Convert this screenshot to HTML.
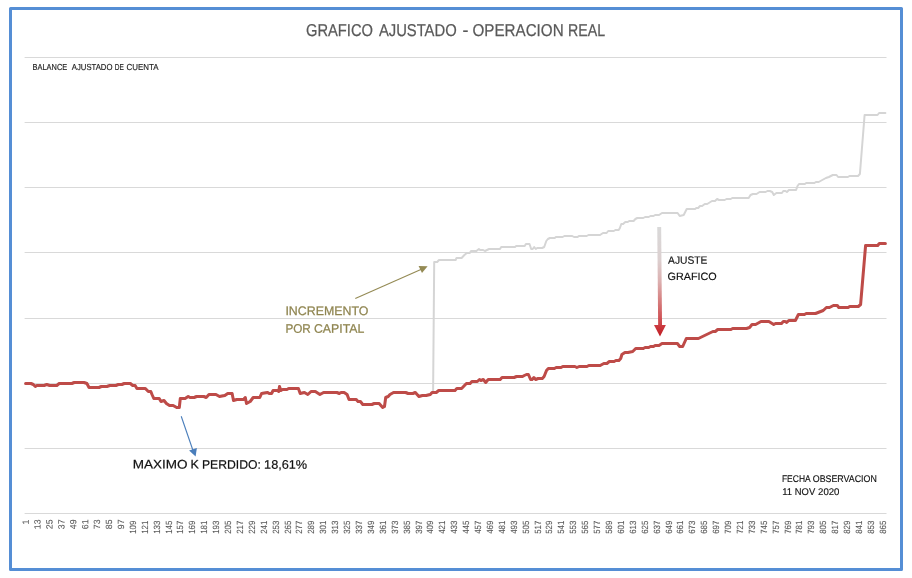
<!DOCTYPE html>
<html lang="es">
<head>
<meta charset="utf-8">
<title>GRAFICO AJUSTADO - OPERACION REAL</title>
<style>
html,body{margin:0;padding:0;background:#fff;}
body{width:912px;height:578px;overflow:hidden;position:relative;font-family:"Liberation Sans",sans-serif;}
svg{position:absolute;left:0;top:0;display:block;}
text{font-family:"Liberation Sans",sans-serif;}
</style>
</head>
<body>
<svg width="912" height="578" viewBox="0 0 912 578">
<defs>
<linearGradient id="ga" gradientUnits="userSpaceOnUse" x1="0" y1="226.9" x2="0" y2="336.3">
<stop offset="0" stop-color="#d9d9d9"/>
<stop offset="0.3" stop-color="#dcd0d0"/>
<stop offset="0.5" stop-color="#dcb0b0"/>
<stop offset="0.67" stop-color="#d68080"/>
<stop offset="0.85" stop-color="#cf4e52"/>
<stop offset="1" stop-color="#c6262c"/>
</linearGradient>
<linearGradient id="gh" gradientUnits="userSpaceOnUse" x1="0" y1="325" x2="0" y2="336.5">
<stop offset="0" stop-color="#cc3c42"/>
<stop offset="1" stop-color="#c01c22"/>
</linearGradient>
</defs>
<rect x="0" y="0" width="912" height="578" fill="#ffffff"/>
<rect x="10.5" y="8.5" width="891" height="561" fill="#ffffff" stroke="#558ed5" stroke-width="3" stroke-linejoin="round"/>
<g stroke="#d9d9d9" stroke-width="1" fill="none">
<line x1="24.6" x2="886.5" y1="57.5" y2="57.5"/><line x1="24.6" x2="886.5" y1="122.5" y2="122.5"/><line x1="24.6" x2="886.5" y1="187.5" y2="187.5"/><line x1="24.6" x2="886.5" y1="252.5" y2="252.5"/><line x1="24.6" x2="886.5" y1="318.5" y2="318.5"/><line x1="24.6" x2="886.5" y1="383.5" y2="383.5"/><line x1="24.6" x2="886.5" y1="448.5" y2="448.5"/><line x1="24.6" x2="886.5" y1="513.5" y2="513.5"/>
</g>
<path d="M25.6 383.0 L30.9 383.0 L33.3 384.0 L35.3 386.0 L36.9 385.0 L44.1 385.0 L46.8 384.0 L49.6 385.0 L56.8 385.0 L59.2 383.0 L71.9 383.0 L74.3 382.0 L83.9 382.0 L86.9 383.0 L89.0 387.0 L99.0 387.0 L101.4 386.0 L106.9 386.0 L109.9 385.0 L115.9 385.0 L118.3 384.0 L121.9 384.0 L124.3 383.0 L130.3 383.0 L132.7 385.0 L135.1 385.0 L136.9 388.0 L145.3 388.0 L148.3 391.0 L150.8 391.0 L152.0 394.0 L153.8 398.0 L159.2 398.0 L161.0 401.0 L164.0 400.0 L166.4 403.0 L169.5 405.0 L173.1 405.0 L176.7 407.0 L179.3 407.0 L180.3 398.0 L185.1 398.0 L188.2 396.0 L190.0 397.0 L194.2 397.0 L196.6 396.0 L203.8 396.0 L206.2 397.0 L209.0 394.0 L215.9 394.0 L219.5 396.0 L224.8 395.0 L227.8 393.0 L232.1 393.0 L233.5 400.0 L236.9 399.0 L243.5 399.0 L245.3 397.0 L246.5 403.0 L250.2 401.0 L253.2 397.0 L259.8 397.0 L261.6 393.0 L267.6 392.0 L269.2 393.0 L271.6 393.0 L273.1 390.0 L277.9 390.0 L278.7 391.0 L279.5 386.0 L280.9 390.0 L282.7 389.0 L286.9 389.0 L288.8 388.0 L298.4 388.0 L300.2 393.0 L304.4 392.0 L307.8 394.0 L311.1 391.0 L315.3 391.0 L319.9 394.0 L323.7 392.0 L336.9 392.0 L339.3 393.0 L341.1 392.0 L344.1 392.0 L347.1 394.0 L349.0 399.0 L356.2 399.0 L358.0 401.0 L360.4 401.0 L362.8 404.0 L371.9 404.0 L374.3 403.0 L379.1 403.0 L382.7 407.0 L384.5 406.0 L385.7 397.0 L388.2 396.0 L390.0 394.0 L393.6 392.0 L405.6 392.0 L408.1 393.0 L412.9 393.0 L415.3 392.0 L418.9 396.0 L422.5 395.0 L426.2 395.0 L430.3 394.0 L432.1 392.0 L433.1 392.0 L434.2 262.0 L437.2 262.0 L439.0 260.0 L455.6 260.0 L456.5 258.0 L461.6 258.0 L464.4 255.0 L466.8 253.0 L469.8 253.0 L471.0 251.0 L476.4 251.0 L478.9 249.0 L480.1 250.0 L483.1 250.0 L484.9 251.0 L489.1 249.0 L500.0 249.0 L501.2 247.0 L515.0 247.0 L516.2 246.0 L524.7 246.0 L525.9 244.0 L529.5 244.0 L531.2 249.0 L532.7 249.0 L534.2 247.0 L535.8 249.0 L537.2 248.0 L542.1 248.0 L544.2 247.0 L546.3 241.0 L547.9 239.0 L549.9 238.0 L554.7 238.0 L555.9 237.0 L562.6 237.0 L564.4 236.0 L572.2 236.0 L574.0 237.0 L577.6 237.0 L578.9 236.0 L586.7 236.0 L588.5 235.0 L600.0 235.0 L603.0 233.0 L606.6 233.0 L608.2 231.0 L613.8 231.0 L615.4 230.0 L618.7 230.0 L619.9 228.0 L621.3 224.0 L623.1 224.0 L625.3 222.0 L627.7 222.0 L629.2 221.0 L633.6 221.0 L635.4 219.0 L637.3 218.0 L643.3 218.0 L645.1 217.0 L648.7 217.0 L650.5 216.0 L653.5 216.0 L655.1 215.0 L659.0 215.0 L662.0 213.0 L677.6 213.0 L679.7 216.0 L683.7 215.0 L686.7 209.0 L695.1 209.0 L696.3 208.0 L698.2 208.0 L700.0 206.0 L702.1 206.0 L704.8 204.0 L707.2 204.0 L712.0 201.0 L715.0 201.0 L717.1 199.0 L719.0 200.0 L724.7 200.0 L726.5 199.0 L730.7 199.0 L732.3 198.0 L748.7 198.0 L750.5 195.0 L752.9 194.0 L756.5 194.0 L759.6 192.0 L765.6 192.0 L767.4 191.0 L769.8 191.0 L772.2 192.0 L773.8 195.0 L776.4 193.0 L781.9 193.0 L783.3 191.0 L785.5 191.0 L786.9 192.0 L788.9 190.0 L796.1 190.0 L797.5 186.0 L799.0 184.0 L804.8 184.0 L806.2 183.0 L814.4 183.0 L815.9 182.0 L818.7 182.0 L822.3 180.0 L825.9 178.0 L828.9 177.0 L832.8 175.0 L836.5 175.0 L838.1 177.0 L847.9 177.0 L849.5 176.0 L858.0 176.0 L859.9 174.0 L864.6 115.0 L877.5 115.0 L879.1 113.0 L885.4 113.0" fill="none" stroke="#d5d5d5" stroke-width="2" stroke-linejoin="round" stroke-linecap="round"/>
<path d="M25.6 383.5 L30.9 383.5 L33.3 384.5 L35.3 386.5 L36.9 385.5 L44.1 385.5 L46.8 384.5 L49.6 385.5 L56.8 385.5 L59.2 383.5 L71.9 383.5 L74.3 382.5 L83.9 382.5 L86.9 383.5 L89.0 387.5 L99.0 387.5 L101.4 386.5 L106.9 386.5 L109.9 385.5 L115.9 385.5 L118.3 384.5 L121.9 384.5 L124.3 383.5 L130.3 383.5 L132.7 385.5 L135.1 385.5 L136.9 388.5 L145.3 388.5 L148.3 391.5 L150.8 391.5 L152.0 394.5 L153.8 398.5 L159.2 398.5 L161.0 401.5 L164.0 400.5 L166.4 403.5 L169.5 405.5 L173.1 405.5 L176.7 407.5 L179.3 407.5 L180.3 398.5 L185.1 398.5 L188.2 396.5 L190.0 397.5 L194.2 397.5 L196.6 396.5 L203.8 396.5 L206.2 397.5 L209.0 394.5 L215.9 394.5 L219.5 396.5 L224.8 395.5 L227.8 393.5 L232.1 393.5 L233.5 400.5 L236.9 399.5 L243.5 399.5 L245.3 397.5 L246.5 403.5 L250.2 401.5 L253.2 397.5 L259.8 397.5 L261.6 393.5 L267.6 392.5 L269.2 393.5 L271.6 393.5 L273.1 390.5 L277.9 390.5 L278.7 391.5 L279.5 386.5 L280.9 390.5 L282.7 389.5 L286.9 389.5 L288.8 388.5 L298.4 388.5 L300.2 393.5 L304.4 392.5 L307.8 394.5 L311.1 391.5 L315.3 391.5 L319.9 394.5 L323.7 392.5 L336.9 392.5 L339.3 393.5 L341.1 392.5 L344.1 392.5 L347.1 394.5 L349.0 399.5 L356.2 399.5 L358.0 401.5 L360.4 401.5 L362.8 404.5 L371.9 404.5 L374.3 403.5 L379.1 403.5 L382.7 407.5 L384.5 406.5 L385.7 397.5 L388.2 396.5 L390.0 394.5 L393.6 392.5 L405.6 392.5 L408.1 393.5 L412.9 393.5 L415.3 392.5 L418.9 396.5 L422.5 395.5 L426.2 395.5 L430.3 394.5 L432.1 392.5 L436.3 392.5 L438.7 390.5 L455.0 390.5 L456.8 388.5 L461.6 388.5 L466.4 383.5 L470.1 383.5 L471.9 381.5 L477.3 381.5 L479.5 379.5 L480.9 380.5 L483.3 379.5 L485.7 382.5 L488.2 379.5 L500.2 379.5 L502.0 377.5 L514.1 377.5 L516.5 376.5 L522.5 376.5 L524.3 375.5 L526.5 374.5 L528.4 374.5 L530.6 379.5 L532.1 379.5 L533.9 377.5 L535.7 379.5 L538.1 378.5 L542.3 378.5 L544.1 376.5 L546.5 370.5 L548.3 368.5 L554.4 368.5 L556.2 367.5 L561.0 367.5 L562.8 366.5 L574.9 366.5 L576.9 367.5 L579.1 366.5 L586.9 366.5 L588.8 365.5 L600.2 365.5 L603.8 363.5 L606.9 363.5 L609.3 361.5 L614.1 361.5 L615.9 360.5 L618.9 360.5 L620.7 358.5 L621.9 354.5 L624.9 352.5 L628.0 352.5 L632.7 351.5 L635.7 348.5 L643.3 348.5 L645.1 347.5 L648.7 347.5 L650.5 346.5 L653.5 346.5 L655.1 345.5 L659.0 345.5 L662.0 343.5 L677.4 343.5 L679.7 346.5 L682.7 346.5 L686.3 338.5 L698.4 338.5 L712.9 331.5 L715.3 331.5 L717.7 329.5 L730.9 329.5 L732.7 328.5 L746.5 328.5 L749.6 327.5 L752.0 324.5 L755.6 324.5 L761.0 321.5 L768.9 321.5 L773.7 324.5 L775.5 323.5 L781.5 323.5 L783.3 321.5 L785.1 321.5 L786.7 322.5 L788.8 320.5 L795.4 320.5 L798.4 314.5 L804.4 314.5 L806.2 313.5 L815.5 313.5 L823.2 310.5 L826.4 307.5 L829.5 307.5 L833.4 305.5 L837.3 305.5 L838.8 307.5 L848.1 307.5 L849.7 306.5 L858.3 306.5 L860.6 304.5 L865.6 245.5 L877.7 245.5 L879.3 243.5 L885.4 243.5" fill="none" stroke="#be4b48" stroke-width="3" stroke-linejoin="round" stroke-linecap="round"/>
<!-- title -->
<text transform="rotate(0.03 305.95 35.6)" font-size="17.1" fill="#595959" stroke="#595959" stroke-width="0.25"><tspan x="305.95" y="35.6" textLength="67.03" lengthAdjust="spacingAndGlyphs">GRAFICO</tspan> <tspan x="378.90" y="35.6" textLength="77.76" lengthAdjust="spacingAndGlyphs">AJUSTADO</tspan> <tspan x="462.45" y="35.6" textLength="5.90" lengthAdjust="spacingAndGlyphs">-</tspan> <tspan x="472.55" y="35.6" textLength="91.05" lengthAdjust="spacingAndGlyphs">OPERACION</tspan> <tspan x="568.05" y="35.6" textLength="37.06" lengthAdjust="spacingAndGlyphs">REAL</tspan></text>
<text transform="rotate(0.03 32.57 70)" font-size="8.7" fill="#222222" stroke="#222222" stroke-width="0.15"><tspan x="32.57" y="70" textLength="34.62" lengthAdjust="spacingAndGlyphs">BALANCE</tspan> <tspan x="71.75" y="70" textLength="40.75" lengthAdjust="spacingAndGlyphs">AJUSTADO</tspan> <tspan x="114.70" y="70" textLength="9.07" lengthAdjust="spacingAndGlyphs">DE</tspan> <tspan x="126.50" y="70" textLength="32.01" lengthAdjust="spacingAndGlyphs">CUENTA</tspan></text>
<!-- olive annotation -->
<g fill="#8f8550" stroke="#8f8550" stroke-width="0.25">
<text transform="rotate(0.03 285.40 314.9)" font-size="12.4"><tspan x="285.40" y="314.9" textLength="83.03" lengthAdjust="spacingAndGlyphs">INCREMENTO</tspan></text>
<text transform="rotate(0.03 285.40 332.8)" font-size="12.4"><tspan x="285.40" y="332.8" textLength="25.35" lengthAdjust="spacingAndGlyphs">POR</tspan> <tspan x="314.00" y="332.8" textLength="50.27" lengthAdjust="spacingAndGlyphs">CAPITAL</tspan></text>
</g>
<line x1="355.3" y1="298.4" x2="422" y2="269.1" stroke="#948a54" stroke-width="1.1"/>
<polygon points="427.6,266.3 422.0,273.1 418.6,266.0" fill="#948a54"/>
<!-- red gradient arrow -->
<line x1="659.2" y1="226.9" x2="660.1" y2="326" stroke="url(#ga)" stroke-width="3.9"/>
<polygon points="654.0,325.1 665.9,325.1 660,336.5" fill="url(#gh)"/>
<g fill="#111111" stroke="#111111" stroke-width="0.15">
<text transform="rotate(0.03 668.06 263.8)" font-size="10.6"><tspan x="668.06" y="263.8" textLength="39.30" lengthAdjust="spacingAndGlyphs">AJUSTE</tspan></text>
<text transform="rotate(0.03 667.56 280)" font-size="10.6"><tspan x="667.56" y="280" textLength="49.22" lengthAdjust="spacingAndGlyphs">GRAFICO</tspan></text>
</g>
<!-- blue arrow -->
<line x1="181.2" y1="416.3" x2="193.0" y2="450.5" stroke="#4a7ebb" stroke-width="1.1"/>
<polygon points="195.6,456.4 189.1,450.4 196.9,447.9" fill="#4a7ebb"/>
<text transform="rotate(0.03 132.80 468.6)" font-size="12.4" fill="#111111" stroke="#111111" stroke-width="0.2"><tspan x="132.80" y="468.6" textLength="54.81" lengthAdjust="spacingAndGlyphs">MAXIMO</tspan> <tspan x="190.50" y="468.6" textLength="8.42" lengthAdjust="spacingAndGlyphs">K</tspan> <tspan x="202.00" y="468.6" textLength="58.83" lengthAdjust="spacingAndGlyphs">PERDIDO:</tspan> <tspan x="264.10" y="468.6" textLength="43.06" lengthAdjust="spacingAndGlyphs">18,61%</tspan></text>
<g fill="#111111" stroke="#111111" stroke-width="0.15">
<text transform="rotate(0.03 781.95 481.6)" font-size="9.7"><tspan x="781.95" y="481.6" textLength="28.27" lengthAdjust="spacingAndGlyphs">FECHA</tspan> <tspan x="812.80" y="481.6" textLength="64.02" lengthAdjust="spacingAndGlyphs">OBSERVACION</tspan></text>
<text transform="rotate(0.03 782.15 494.9)" font-size="9.7"><tspan x="782.15" y="494.9" textLength="9.87" lengthAdjust="spacingAndGlyphs">11</tspan> <tspan x="794.85" y="494.9" textLength="20.30" lengthAdjust="spacingAndGlyphs">NOV</tspan> <tspan x="818.10" y="494.9" textLength="21.28" lengthAdjust="spacingAndGlyphs">2020</tspan></text>
</g>
<g font-size="9" fill="#595959" stroke="#595959" stroke-width="0.1">
<text transform="translate(28.70 524.40) rotate(-89.97)" textLength="4.9" lengthAdjust="spacingAndGlyphs">1</text><text transform="translate(40.60 529.20) rotate(-89.97)" textLength="9.75" lengthAdjust="spacingAndGlyphs">13</text><text transform="translate(52.51 529.20) rotate(-89.97)" textLength="9.75" lengthAdjust="spacingAndGlyphs">25</text><text transform="translate(64.41 529.20) rotate(-89.97)" textLength="9.75" lengthAdjust="spacingAndGlyphs">37</text><text transform="translate(76.32 529.20) rotate(-89.97)" textLength="9.75" lengthAdjust="spacingAndGlyphs">49</text><text transform="translate(88.22 529.20) rotate(-89.97)" textLength="9.75" lengthAdjust="spacingAndGlyphs">61</text><text transform="translate(100.12 529.20) rotate(-89.97)" textLength="9.75" lengthAdjust="spacingAndGlyphs">73</text><text transform="translate(112.03 529.20) rotate(-89.97)" textLength="9.75" lengthAdjust="spacingAndGlyphs">85</text><text transform="translate(123.93 529.20) rotate(-89.97)" textLength="9.75" lengthAdjust="spacingAndGlyphs">97</text><text transform="translate(135.84 533.85) rotate(-89.97)" textLength="13.25" lengthAdjust="spacingAndGlyphs">109</text><text transform="translate(147.74 533.85) rotate(-89.97)" textLength="13.25" lengthAdjust="spacingAndGlyphs">121</text><text transform="translate(159.64 533.85) rotate(-89.97)" textLength="13.25" lengthAdjust="spacingAndGlyphs">133</text><text transform="translate(171.55 533.85) rotate(-89.97)" textLength="13.25" lengthAdjust="spacingAndGlyphs">145</text><text transform="translate(183.45 533.85) rotate(-89.97)" textLength="13.25" lengthAdjust="spacingAndGlyphs">157</text><text transform="translate(195.36 533.85) rotate(-89.97)" textLength="13.25" lengthAdjust="spacingAndGlyphs">169</text><text transform="translate(207.26 533.85) rotate(-89.97)" textLength="13.25" lengthAdjust="spacingAndGlyphs">181</text><text transform="translate(219.16 533.85) rotate(-89.97)" textLength="13.25" lengthAdjust="spacingAndGlyphs">193</text><text transform="translate(231.07 533.85) rotate(-89.97)" textLength="13.25" lengthAdjust="spacingAndGlyphs">205</text><text transform="translate(242.97 533.85) rotate(-89.97)" textLength="13.25" lengthAdjust="spacingAndGlyphs">217</text><text transform="translate(254.88 533.85) rotate(-89.97)" textLength="13.25" lengthAdjust="spacingAndGlyphs">229</text><text transform="translate(266.78 533.85) rotate(-89.97)" textLength="13.25" lengthAdjust="spacingAndGlyphs">241</text><text transform="translate(278.68 533.85) rotate(-89.97)" textLength="13.25" lengthAdjust="spacingAndGlyphs">253</text><text transform="translate(290.59 533.85) rotate(-89.97)" textLength="13.25" lengthAdjust="spacingAndGlyphs">265</text><text transform="translate(302.49 533.85) rotate(-89.97)" textLength="13.25" lengthAdjust="spacingAndGlyphs">277</text><text transform="translate(314.40 533.85) rotate(-89.97)" textLength="13.25" lengthAdjust="spacingAndGlyphs">289</text><text transform="translate(326.30 533.85) rotate(-89.97)" textLength="13.25" lengthAdjust="spacingAndGlyphs">301</text><text transform="translate(338.20 533.85) rotate(-89.97)" textLength="13.25" lengthAdjust="spacingAndGlyphs">313</text><text transform="translate(350.11 533.85) rotate(-89.97)" textLength="13.25" lengthAdjust="spacingAndGlyphs">325</text><text transform="translate(362.01 533.85) rotate(-89.97)" textLength="13.25" lengthAdjust="spacingAndGlyphs">337</text><text transform="translate(373.92 533.85) rotate(-89.97)" textLength="13.25" lengthAdjust="spacingAndGlyphs">349</text><text transform="translate(385.82 533.85) rotate(-89.97)" textLength="13.25" lengthAdjust="spacingAndGlyphs">361</text><text transform="translate(397.72 533.85) rotate(-89.97)" textLength="13.25" lengthAdjust="spacingAndGlyphs">373</text><text transform="translate(409.63 533.85) rotate(-89.97)" textLength="13.25" lengthAdjust="spacingAndGlyphs">385</text><text transform="translate(421.53 533.85) rotate(-89.97)" textLength="13.25" lengthAdjust="spacingAndGlyphs">397</text><text transform="translate(433.44 533.85) rotate(-89.97)" textLength="13.25" lengthAdjust="spacingAndGlyphs">409</text><text transform="translate(445.34 533.85) rotate(-89.97)" textLength="13.25" lengthAdjust="spacingAndGlyphs">421</text><text transform="translate(457.24 533.85) rotate(-89.97)" textLength="13.25" lengthAdjust="spacingAndGlyphs">433</text><text transform="translate(469.15 533.85) rotate(-89.97)" textLength="13.25" lengthAdjust="spacingAndGlyphs">445</text><text transform="translate(481.05 533.85) rotate(-89.97)" textLength="13.25" lengthAdjust="spacingAndGlyphs">457</text><text transform="translate(492.96 533.85) rotate(-89.97)" textLength="13.25" lengthAdjust="spacingAndGlyphs">469</text><text transform="translate(504.86 533.85) rotate(-89.97)" textLength="13.25" lengthAdjust="spacingAndGlyphs">481</text><text transform="translate(516.76 533.85) rotate(-89.97)" textLength="13.25" lengthAdjust="spacingAndGlyphs">493</text><text transform="translate(528.67 533.85) rotate(-89.97)" textLength="13.25" lengthAdjust="spacingAndGlyphs">505</text><text transform="translate(540.57 533.85) rotate(-89.97)" textLength="13.25" lengthAdjust="spacingAndGlyphs">517</text><text transform="translate(552.48 533.85) rotate(-89.97)" textLength="13.25" lengthAdjust="spacingAndGlyphs">529</text><text transform="translate(564.38 533.85) rotate(-89.97)" textLength="13.25" lengthAdjust="spacingAndGlyphs">541</text><text transform="translate(576.28 533.85) rotate(-89.97)" textLength="13.25" lengthAdjust="spacingAndGlyphs">553</text><text transform="translate(588.19 533.85) rotate(-89.97)" textLength="13.25" lengthAdjust="spacingAndGlyphs">565</text><text transform="translate(600.09 533.85) rotate(-89.97)" textLength="13.25" lengthAdjust="spacingAndGlyphs">577</text><text transform="translate(612.00 533.85) rotate(-89.97)" textLength="13.25" lengthAdjust="spacingAndGlyphs">589</text><text transform="translate(623.90 533.85) rotate(-89.97)" textLength="13.25" lengthAdjust="spacingAndGlyphs">601</text><text transform="translate(635.80 533.85) rotate(-89.97)" textLength="13.25" lengthAdjust="spacingAndGlyphs">613</text><text transform="translate(647.71 533.85) rotate(-89.97)" textLength="13.25" lengthAdjust="spacingAndGlyphs">625</text><text transform="translate(659.61 533.85) rotate(-89.97)" textLength="13.25" lengthAdjust="spacingAndGlyphs">637</text><text transform="translate(671.52 533.85) rotate(-89.97)" textLength="13.25" lengthAdjust="spacingAndGlyphs">649</text><text transform="translate(683.42 533.85) rotate(-89.97)" textLength="13.25" lengthAdjust="spacingAndGlyphs">661</text><text transform="translate(695.32 533.85) rotate(-89.97)" textLength="13.25" lengthAdjust="spacingAndGlyphs">673</text><text transform="translate(707.23 533.85) rotate(-89.97)" textLength="13.25" lengthAdjust="spacingAndGlyphs">685</text><text transform="translate(719.13 533.85) rotate(-89.97)" textLength="13.25" lengthAdjust="spacingAndGlyphs">697</text><text transform="translate(731.04 533.85) rotate(-89.97)" textLength="13.25" lengthAdjust="spacingAndGlyphs">709</text><text transform="translate(742.94 533.85) rotate(-89.97)" textLength="13.25" lengthAdjust="spacingAndGlyphs">721</text><text transform="translate(754.84 533.85) rotate(-89.97)" textLength="13.25" lengthAdjust="spacingAndGlyphs">733</text><text transform="translate(766.75 533.85) rotate(-89.97)" textLength="13.25" lengthAdjust="spacingAndGlyphs">745</text><text transform="translate(778.65 533.85) rotate(-89.97)" textLength="13.25" lengthAdjust="spacingAndGlyphs">757</text><text transform="translate(790.56 533.85) rotate(-89.97)" textLength="13.25" lengthAdjust="spacingAndGlyphs">769</text><text transform="translate(802.46 533.85) rotate(-89.97)" textLength="13.25" lengthAdjust="spacingAndGlyphs">781</text><text transform="translate(814.36 533.85) rotate(-89.97)" textLength="13.25" lengthAdjust="spacingAndGlyphs">793</text><text transform="translate(826.27 533.85) rotate(-89.97)" textLength="13.25" lengthAdjust="spacingAndGlyphs">805</text><text transform="translate(838.17 533.85) rotate(-89.97)" textLength="13.25" lengthAdjust="spacingAndGlyphs">817</text><text transform="translate(850.08 533.85) rotate(-89.97)" textLength="13.25" lengthAdjust="spacingAndGlyphs">829</text><text transform="translate(861.98 533.85) rotate(-89.97)" textLength="13.25" lengthAdjust="spacingAndGlyphs">841</text><text transform="translate(873.88 533.85) rotate(-89.97)" textLength="13.25" lengthAdjust="spacingAndGlyphs">853</text><text transform="translate(885.79 533.85) rotate(-89.97)" textLength="13.25" lengthAdjust="spacingAndGlyphs">865</text>
</g>
</svg>
</body>
</html>
